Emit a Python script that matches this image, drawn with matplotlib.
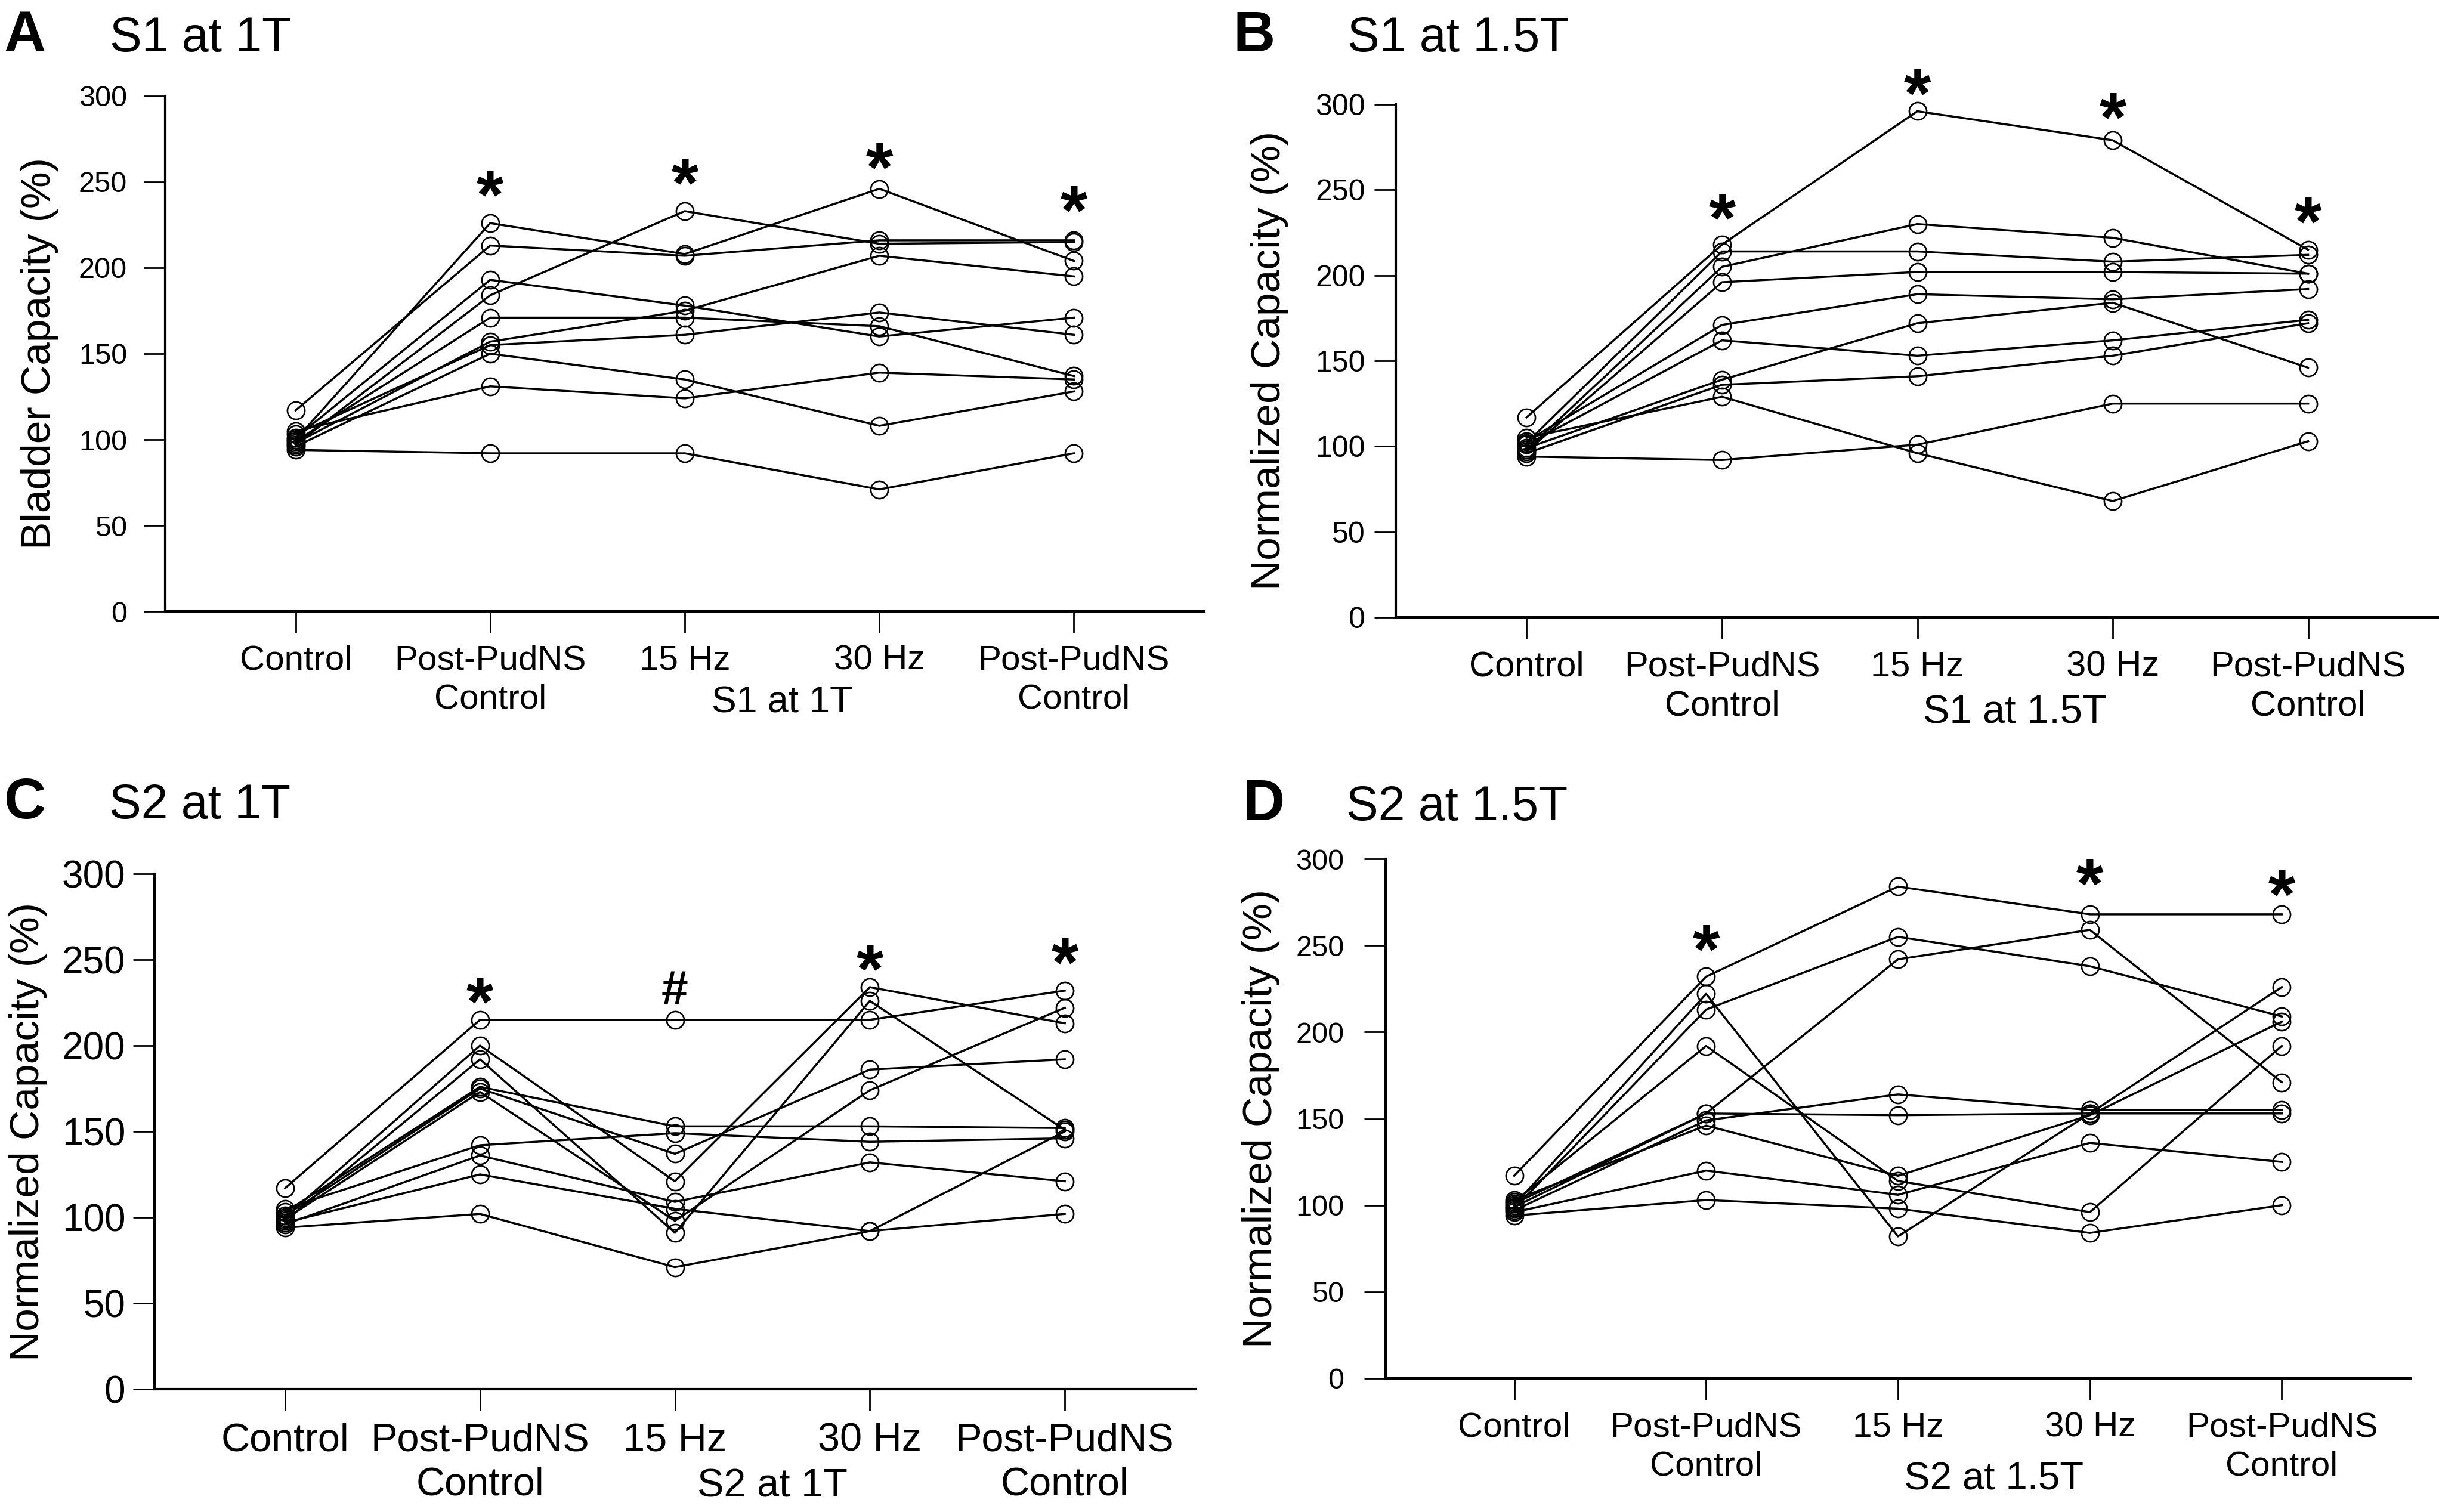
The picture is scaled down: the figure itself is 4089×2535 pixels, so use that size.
import matplotlib
matplotlib.use('Agg')
import matplotlib.pyplot as plt

plt.rcParams['font.family'] = ['Liberation Sans', 'DejaVu Sans']

# conditions on the x axis
conditions = ['Control', 'Post-PudNS\nControl', '15 Hz', '30 Hz', 'Post-PudNS\nControl']

# each row = one animal: Control, Post-PudNS, 15 Hz, 30 Hz, Post-PudNS
s1_1t = [
    [100, 226, 208, 246, 204],
    [117, 213, 207, 216, 216],
    [97, 184, 233, 214, 215],
    [101, 193, 178, 160, 171],
    [99, 171, 171, 166, 137],
    [98, 157, 175, 207, 195],
    [103, 155, 161, 174, 161],
    [96, 150, 135, 108, 128],
    [105, 131, 124, 139, 135],
    [94, 92, 92, 71, 92],
]
s1_15t = [
    [117, 218, 296, 279, 215],
    [98, 205, 230, 222, 201],
    [102, 214, 214, 208, 212],
    [97, 196, 202, 202, 201],
    [103, 171, 189, 186, 192],
    [99, 139, 172, 184, 146],
    [101, 162, 153, 162, 174],
    [96, 136, 141, 153, 172],
    [105, 129, 96, 68, 103],
    [94, 92, 101, 125, 125],
]
s2_1t = [
    [117, 215, 215, 215, 232],
    [100, 200, 121, 234, 213],
    [98, 192, 91, 226, 151],
    [103, 176, 153, 153, 152],
    [101, 175, 137, 186, 192],
    [99, 173, 98, 174, 222],
    [105, 142, 149, 144, 146],
    [96, 136, 109, 132, 121],
    [97, 125, 105, 92, 150],
    [94, 102, 71, 92, 102],
]
s2_15t = [
    [117, 232, 284, 268, 268],
    [100, 222, 82, 153, 226],
    [98, 213, 255, 238, 209],
    [102, 192, 114, 96, 192],
    [99, 153, 242, 259, 171],
    [101, 153, 152, 153, 153],
    [97, 149, 164, 155, 155],
    [103, 146, 117, 152, 206],
    [96, 120, 106, 136, 125],
    [94, 103, 98, 84, 100],
]

# significance marks (x index, y value)
star_x_a, star_y_a = [1, 2, 3, 4], [252, 259, 268, 243]
star_x_b, star_y_b = [1, 2, 3, 4], [243, 316, 302, 241]
star_x_c, star_y_c = [1, 3, 4], [235, 254, 258]
hash_x_c, hash_y_c = [2], [234]
star_x_d, star_y_d = [1, 3, 4], [257, 295, 289]

W, H = 4089, 2535
fig = plt.figure(figsize=(W / 100, H / 100), dpi=100)


def panel(rect, data, ylabel, xlabel, ytick_fs, xtick_fs, xlab_fs, xlab_off, ypad,
          sx, sy, hx=(), hy=()):
    ax = fig.add_axes(rect)
    pos = list(range(len(conditions)))
    for row in data:
        ax.plot(pos, row, color='black', lw=2.5, marker='o', ms=21,
                mfc='none', mec='black', mew=1.9, clip_on=False, zorder=3)
    ax.set_xlim(-0.67, 4.67)
    ax.set_ylim(0, 300)
    ax.set_yticks(range(0, 301, 50))
    ax.set_xticks(pos)
    ax.set_xticklabels(conditions, fontsize=xtick_fs, linespacing=1.25)
    ax.tick_params(axis='y', labelsize=ytick_fs, length=26, width=2, pad=ypad)
    ax.tick_params(axis='x', length=26, width=2, pad=14)
    for s in ['top', 'right']:
        ax.spines[s].set_visible(False)
    for s in ['left', 'bottom']:
        ax.spines[s].set_linewidth(3)
    ax.set_ylabel(ylabel, fontsize=50)
    ax.yaxis.set_label_coords(-0.103, 0.5)
    ax.annotate(xlabel, xy=(2.5, 0), xycoords='data', xytext=(0, -xlab_off),
                textcoords='offset points', ha='center', va='baseline',
                fontsize=xlab_fs, annotation_clip=False)
    fs = 84
    for x, y in zip(sx, sy):
        ax.annotate('*', xy=(x, y), xytext=(0, -0.575 * fs), textcoords='offset points',
                    ha='center', va='baseline', fontsize=fs, fontweight='bold',
                    annotation_clip=False)
    hfs = 58
    for x, y in zip(hx, hy):
        ax.annotate('#', xy=(x, y), xytext=(0, -0.36 * hfs), textcoords='offset points',
                    ha='center', va='baseline', fontsize=hfs, fontweight='bold',
                    annotation_clip=False)
    return ax


panel([277 / W, 1 - 1025 / H, 1742 / W, 864 / H], s1_1t, 'Bladder Capacity (%)', 'S1 at 1T',
      35, 42, 45, 122, 20, star_x_a, star_y_a)
panel([2340 / W, 1 - 1035 / H, 1749 / W, 860 / H], s1_15t, 'Normalized Capacity (%)', 'S1 at 1.5T',
      36, 43, 48, 128, 11, star_x_b, star_y_b)
panel([259 / W, 1 - 2329 / H, 1745 / W, 864 / H], s2_1t, 'Normalized Capacity (%)', 'S2 at 1T',
      46, 48, 48, 130, 9, star_x_c, star_y_c, hash_x_c, hash_y_c)
panel([2323 / W, 1 - 2311 / H, 1718 / W, 871 / H], s2_15t, 'Normalized Capacity (%)', 'S2 at 1.5T',
      35, 42, 47, 134, 24, star_x_d, star_y_d)

# panel letters and titles
letters = ['A', 'B', 'C', 'D']
titles = ['S1 at 1T', 'S1 at 1.5T', 'S2 at 1T', 'S2 at 1.5T']
letter_xy = [(7, 86), (2068, 86), (7, 1372), (2083, 1375)]
title_xy = [(184, 86), (2259, 86), (183, 1372), (2257, 1375)]
for lt, tt, (lx, ly), (tx, ty) in zip(letters, titles, letter_xy, title_xy):
    fig.text(lx / W, 1 - ly / H, lt, fontsize=70, fontweight='bold', va='baseline')
    fig.text(tx / W, 1 - ty / H, tt, fontsize=58, va='baseline')

fig.savefig('out.png', dpi=100)
